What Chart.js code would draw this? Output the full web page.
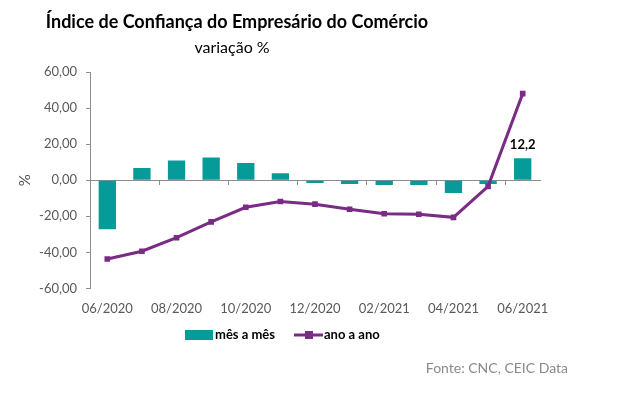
<!DOCTYPE html>
<html><head><meta charset="utf-8">
<script src="https://cdn.jsdelivr.net/npm/chart.js@4.4.1/dist/chart.umd.min.js"></script>
<style>html,body{margin:0;padding:0;background:#fff}#wrap{width:626px;height:394px;position:relative}</style>
</head><body><div id="wrap"><canvas id="c" width="626" height="394"></canvas></div>
<script>
const categories = ["06/2020","07/2020","08/2020","09/2020","10/2020","11/2020","12/2020","01/2021","02/2021","03/2021","04/2021","05/2021","06/2021"];
const mesAMes = [-27.2, 6.7, 10.9, 12.6, 9.6, 3.9, -1.5, -2.1, -2.6, -2.6, -7.1, -2.1, 12.2];
const anoAAno = [-43.7, -39.4, -31.9, -23.1, -15.0, -11.8, -13.3, -16.1, -18.6, -18.9, -20.6, -3.4, 48.0];
const yTicks = [-60, -40, -20, 0, 20, 40, 60];
const titleText = "Índice de Confiança do Empresário do Comércio";
const subtitleText = "variação %";
const sourceText = "Fonte: CNC, CEIC Data";
const yTitle = "%";

const TEAL = "#069b99", PURPLE = "#7a2b85", GRAY = "#595959", AXIS = "#8c8c8c";
const FONT = "Lato, 'Liberation Sans', sans-serif";
const fmt = v => v.toFixed(2).replace('.', ',');

const extras = {
  id: 'extras',
  afterDraw(chart) {
    const ctx = chart.ctx, ca = chart.chartArea;
    ctx.save();
    ctx.fillStyle = '#000';
    ctx.textBaseline = 'alphabetic';
    ctx.textAlign = 'center';
    ctx.font = "bold 18px " + FONT;
    ctx.fillText(titleText, 237, 28);
    ctx.font = "16px " + FONT;
    ctx.fillText(subtitleText, 232, 53);
    ctx.save();
    ctx.translate(25, (ca.top + ca.bottom) / 2);
    ctx.rotate(-Math.PI / 2);
    ctx.font = "15px " + FONT;
    ctx.fillStyle = GRAY;
    ctx.textBaseline = 'middle';
    ctx.fillText(yTitle, 0, 0);
    ctx.restore();
    const barMeta = chart.getDatasetMeta(0);
    const last = barMeta.data[barMeta.data.length - 1];
    ctx.font = "bold 13px " + FONT;
    ctx.fillStyle = '#000';
    ctx.textBaseline = 'middle';
    ctx.fillText(fmt(mesAMes[mesAMes.length - 1]).replace(/0$/, ''), last.x, last.y - 13);
    const ly = 335;
    ctx.textAlign = 'left';
    ctx.fillStyle = TEAL;
    ctx.fillRect(185, ly - 5, 28, 10);
    ctx.fillStyle = '#000';
    ctx.font = "bold 13px " + FONT;
    ctx.fillText(chart.data.datasets[0].label, 215, ly);
    ctx.strokeStyle = PURPLE; ctx.lineWidth = 3;
    ctx.beginPath(); ctx.moveTo(294, ly); ctx.lineTo(323, ly); ctx.stroke();
    ctx.fillStyle = PURPLE; ctx.fillRect(305, ly - 4, 8, 8);
    ctx.fillStyle = '#000';
    ctx.fillText(chart.data.datasets[1].label, 324, ly);
    ctx.font = "14px " + FONT;
    ctx.fillStyle = '#8a8a8a';
    ctx.textAlign = 'right';
    ctx.fillText(sourceText, 568, 368);
    ctx.restore();
  }
};

new Chart(document.getElementById('c'), {
  data: {
    labels: categories,
    datasets: [
      { type: 'bar', label: 'mês a mês', data: mesAMes, backgroundColor: TEAL, barPercentage: 0.5, categoryPercentage: 1, order: 1, xAxisID: 'x' },
      { type: 'line', label: 'ano a ano', data: anoAAno, borderColor: PURPLE, backgroundColor: PURPLE, borderWidth: 3, pointStyle: 'rect', pointRadius: 4, pointBackgroundColor: PURPLE, pointBorderWidth: 0, tension: 0, order: 0, xAxisID: 'x' }
    ]
  },
  options: {
    responsive: false, animation: false,
    layout: { padding: { left: 30, right: 86, top: 72, bottom: 72 } },
    plugins: { legend: { display: false }, title: { display: false }, tooltip: { enabled: false } },
    scales: {
      x: {
        position: 'bottom', offset: true,
        grid: { display: false }, border: { display: false },
        ticks: { autoSkip: false, maxRotation: 0, minRotation: 0, color: GRAY, font: { family: FONT, size: 13 }, padding: 5,
          callback: function(v, i) { return i % 2 === 0 ? this.getLabelForValue(v) : ''; } }
      },
      x0: {
        type: 'category', position: { y: 0 }, offset: true,
        grid: { display: true, drawOnChartArea: false, drawTicks: true, tickLength: 4, offset: true,
          color: c => (c.index % 2 === 0 ? AXIS : 'rgba(0,0,0,0)') },
        border: { display: true, color: AXIS, width: 1 },
        ticks: { display: false }
      },
      y: {
        min: -60, max: 60,
        afterBuildTicks: s => { s.ticks = yTicks.map(v => ({ value: v })); },
        afterFit: s => { s.width = 60; },
        grid: { drawOnChartArea: false, drawTicks: true, tickLength: 4, color: AXIS },
        border: { display: true, color: AXIS },
        ticks: { color: GRAY, font: { family: FONT, size: 13 }, padding: 9, callback: v => fmt(v) }
      }
    }
  },
  plugins: [extras]
});
</script></body></html>
